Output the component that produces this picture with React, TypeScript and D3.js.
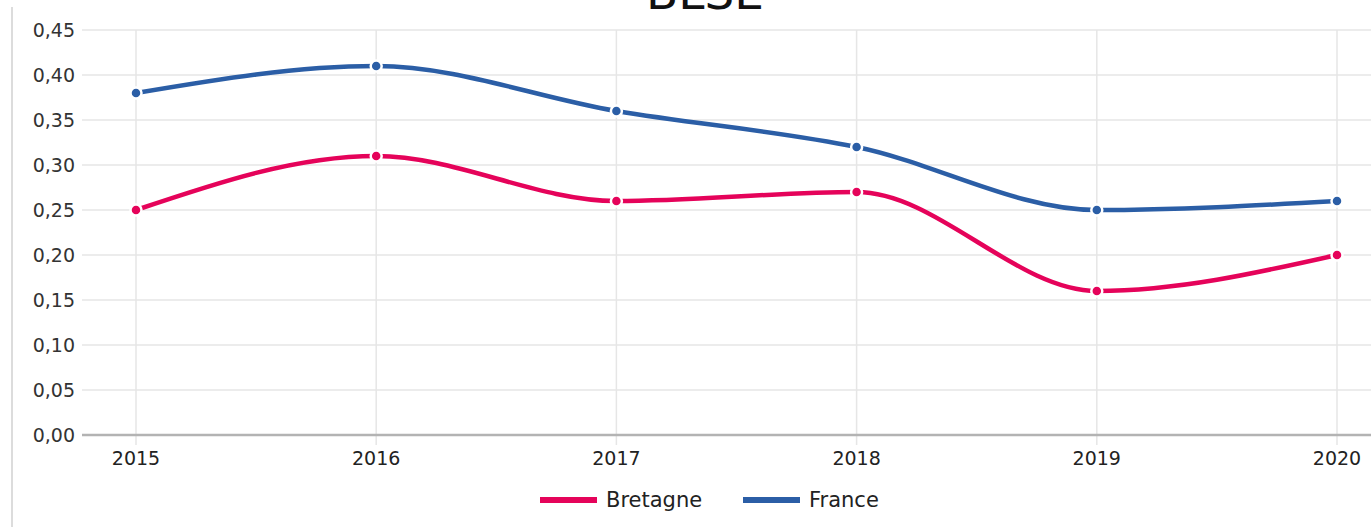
import React from "react";
import * as d3 from "d3";

const years = ["2015", "2016", "2017", "2018", "2019", "2020"];
const bretagne = [0.25, 0.31, 0.26, 0.27, 0.16, 0.2];
const france = [0.38, 0.41, 0.36, 0.32, 0.25, 0.26];
const yTicks = [0, 0.05, 0.1, 0.15, 0.2, 0.25, 0.3, 0.35, 0.4, 0.45];
const seriesNames = ["Bretagne", "France"];
const seriesColors = ["#e5035a", "#2b5ea6"];

const W = 1371;
const H = 527;
const plotLeft = 82;
const plotRight = 1371;

export default function App() {
  const x = d3.scalePoint<string>().domain(years).range([136, 1337]);
  const y = d3.scaleLinear().domain([0, 0.45]).range([435, 30]);
  const line = d3
    .line<number>()
    .x((_, i) => x(years[i]) as number)
    .y((d) => y(d))
    .curve(d3.curveMonotoneX);
  const fmt = (v: number) => v.toFixed(2).replace(".", ",");
  const data = [bretagne, france];
  const font = "'DejaVu Sans', Verdana, sans-serif";

  return (
    <svg
      width={W}
      height={H}
      style={{ position: "absolute", left: 0, top: 0, background: "#fff" }}
      fontFamily={font}
    >
      <line x1={12} x2={12} y1={7} y2={H} stroke="#dcdcdc" strokeWidth={2} />
      <text x={705} y={9} textAnchor="middle" fontSize={47} fill="#111" fontFamily={font}>
        BLSE
      </text>
      {yTicks.map((t) => (
        <g key={t}>
          <line x1={plotLeft} x2={plotRight} y1={y(t)} y2={y(t)} stroke="#e6e6e6" strokeWidth={1.5} />
          <text x={75} y={y(t) + 7} textAnchor="end" fontSize={19} fill="#333">
            {fmt(t)}
          </text>
        </g>
      ))}
      {years.map((yr) => (
        <g key={yr}>
          <line x1={x(yr)} x2={x(yr)} y1={30} y2={445} stroke="#e6e6e6" strokeWidth={1.5} />
          <text x={x(yr)} y={465} textAnchor="middle" fontSize={19} fill="#222">
            {yr}
          </text>
        </g>
      ))}
      <line x1={plotLeft} x2={plotRight} y1={435} y2={435} stroke="#b3b3b3" strokeWidth={2.5} />
      {data.map((s, si) => (
        <g key={si}>
          <path d={line(s) || ""} fill="none" stroke={seriesColors[si]} strokeWidth={4.5} />
          {s.map((v, i) => (
            <circle
              key={i}
              cx={x(years[i])}
              cy={y(v)}
              r={5.5}
              fill={seriesColors[si]}
              stroke="#fff"
              strokeWidth={2.5}
            />
          ))}
        </g>
      ))}
      {seriesNames.map((n, i) => {
        const lx = i === 0 ? 540 : 743;
        return (
          <g key={n}>
            <line x1={lx} x2={lx + 57} y1={500} y2={500} stroke={seriesColors[i]} strokeWidth={6} />
            <text x={lx + 66} y={507} fontSize={21} fill="#222">
              {n}
            </text>
          </g>
        );
      })}
    </svg>
  );
}
